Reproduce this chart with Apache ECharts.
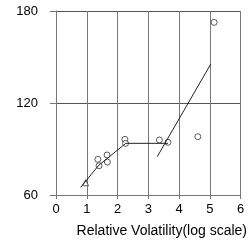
<!DOCTYPE html>
<html>
<head>
<meta charset="utf-8">
<script src="https://cdn.jsdelivr.net/npm/echarts@6/dist/echarts.min.js"></script>
<style>
  html, body { margin: 0; padding: 0; background: #fff; }
  #chart { width: 250px; height: 245px; }
</style>
</head>
<body>
<div id="chart"></div>
<script>
// measured points (relative volatility, value)
var pointX = [1.36, 1.40, 1.66, 1.67, 2.24, 2.26, 3.36, 3.64, 4.61, 5.14]
var pointY = [83.3, 79.1, 86.1, 81.5, 96.3, 93.7, 95.9, 94.4, 98.0, 172.6]
// the first point is drawn as a triangle
var triX = [0.96]
var triY = [68.0]
// fitted lines
var fit1X = [0.80, 1.39, 1.67, 2.27, 3.64]
var fit1Y = [65.0, 79.4, 83.9, 93.7, 93.7]
var fit2X = [3.29, 5.03]
var fit2Y = [85.0, 145.4]
var xTicks = [0, 1, 2, 3, 4, 5, 6]
var yTicks = [60, 120, 180]

function pairs (xs, ys) {
  return xs.map(function (x, i) { return [x, ys[i]] })
}

var font = "'Liberation Sans', Arial, sans-serif"
var gridColor = '#777'

var myChart = echarts.init(document.getElementById('chart'))
myChart.setOption({
  animation: false,
  grid: {
    left: 56,
    right: 7,
    top: 11,
    bottom: 50
  },
  xAxis: {
    type: 'value',
    min: xTicks[0],
    max: xTicks[xTicks.length - 1],
    interval: 1,
    name: 'Relative Volatility(log scale)',
    nameLocation: 'middle',
    nameGap: 29,
    nameTextStyle: {
      fontFamily: font,
      fontSize: 14,
      color: '#000',
      padding: [0, 0, 0, 27]
    },
    axisLine: { lineStyle: { color: gridColor } },
    axisTick: { show: true, length: 4, lineStyle: { color: gridColor } },
    axisLabel: { fontFamily: font, fontSize: 13, color: '#000', margin: 8 },
    splitLine: { show: true, lineStyle: { color: gridColor, width: 1 } }
  },
  yAxis: {
    type: 'value',
    min: yTicks[0],
    max: yTicks[yTicks.length - 1],
    interval: 60,
    axisLine: { show: true, lineStyle: { color: gridColor } },
    axisTick: { show: true, length: 6, lineStyle: { color: gridColor } },
    axisLabel: { fontFamily: font, fontSize: 13, color: '#000', margin: 18 },
    splitLine: { show: true, lineStyle: { color: '#555', width: 1 } }
  },
  series: [
    {
      type: 'line',
      data: pairs(fit1X, fit1Y),
      symbol: 'none',
      lineStyle: { color: '#222', width: 1 }
    },
    {
      type: 'line',
      data: pairs(fit2X, fit2Y),
      symbol: 'none',
      lineStyle: { color: '#222', width: 1 }
    },
    {
      type: 'scatter',
      data: pairs(pointX, pointY),
      symbol: 'circle',
      symbolSize: 6,
      itemStyle: { color: '#fff', borderColor: '#333', borderWidth: 1 }
    },
    {
      type: 'scatter',
      data: pairs(triX, triY),
      symbol: 'triangle',
      symbolSize: 6,
      itemStyle: { color: '#fff', borderColor: '#333', borderWidth: 1 }
    }
  ]
})
</script>
</body>
</html>
